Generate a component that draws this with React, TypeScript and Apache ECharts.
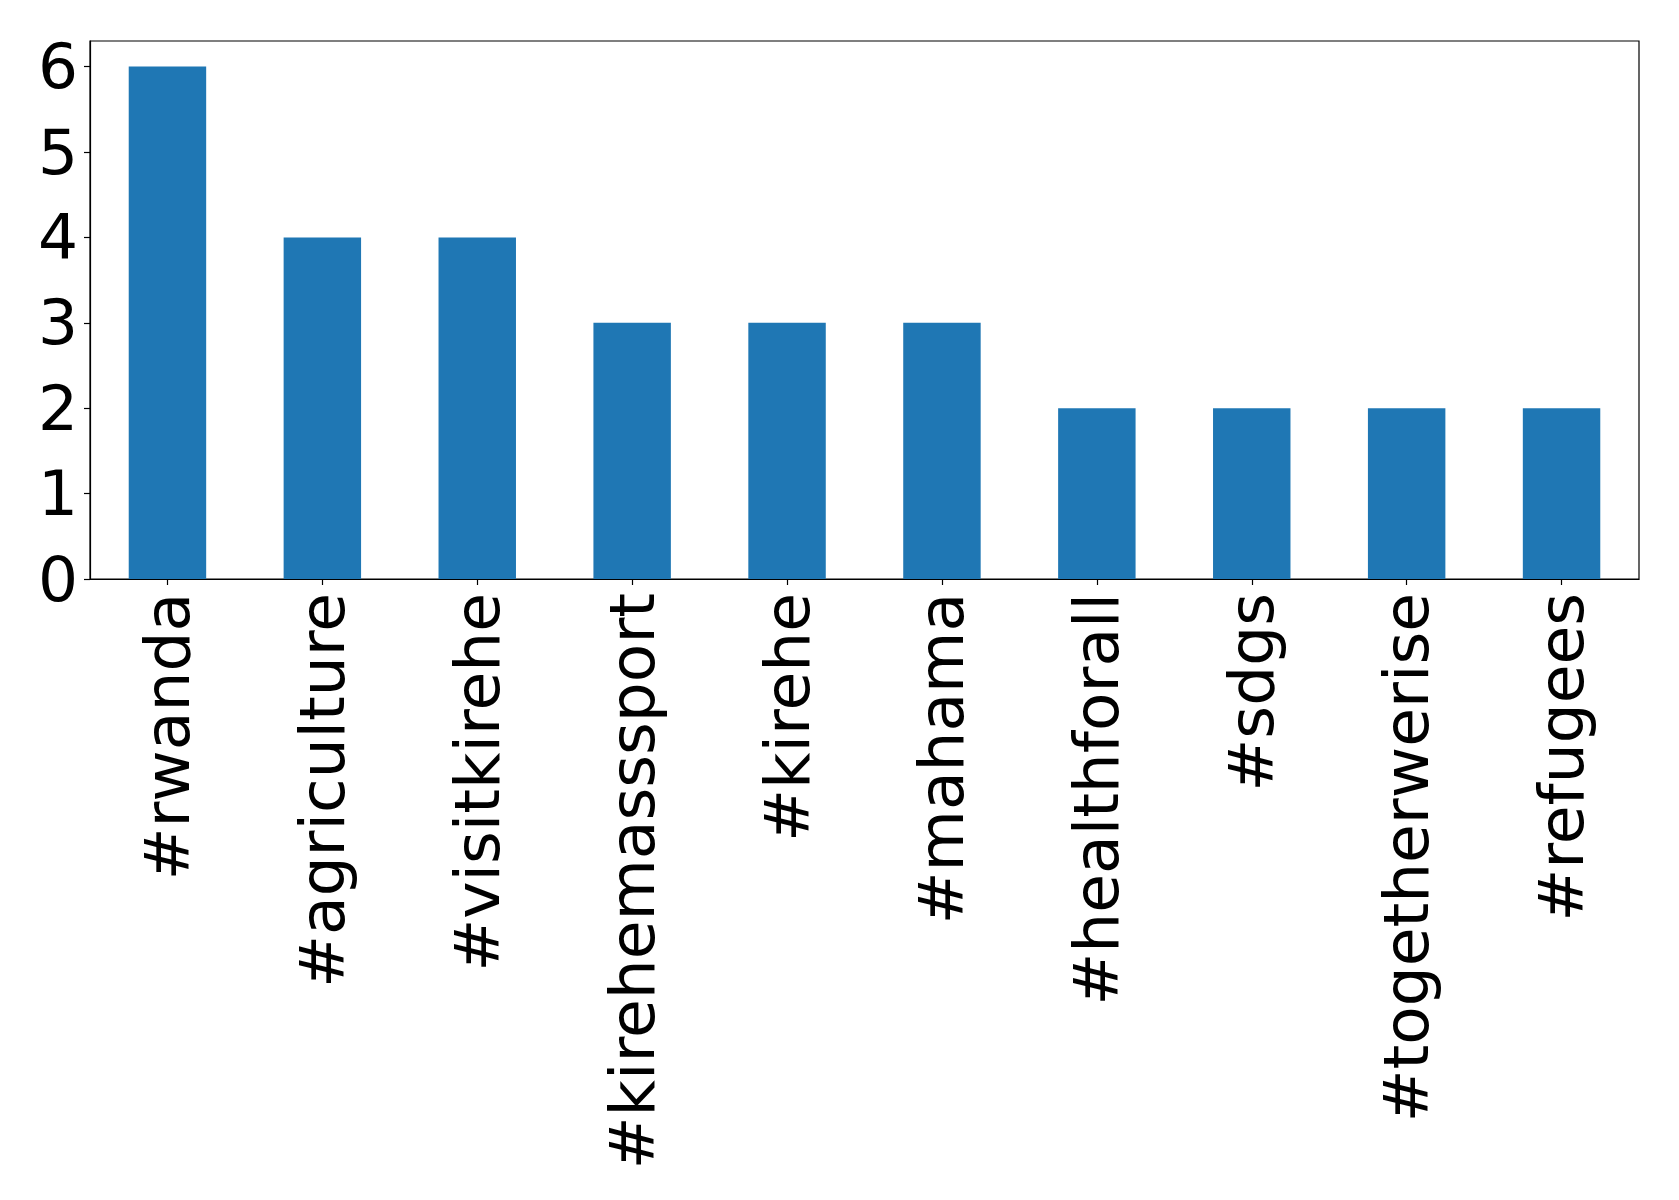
import React, { useEffect, useRef } from "react";
import * as echarts from "echarts";

const categories = [
  "#rwanda",
  "#agriculture",
  "#visitkirehe",
  "#kirehemasssport",
  "#kirehe",
  "#mahama",
  "#healthforall",
  "#sdgs",
  "#togetherwerise",
  "#refugees",
];
const counts = [6, 4, 4, 3, 3, 3, 2, 2, 2, 2];
const yTicks = [0, 1, 2, 3, 4, 5, 6];

export default function App() {
  const ref = useRef<HTMLDivElement>(null);
  useEffect(() => {
    if (!ref.current) return;
    const chart = echarts.init(ref.current, null, { renderer: "svg" });
    const font = "DejaVu Sans";
    chart.setOption({
      animation: false,
      backgroundColor: "#ffffff",
      grid: {
        left: 90,
        right: 40,
        top: 41,
        bottom: 621,
        show: true,
        borderColor: "#000000",
        borderWidth: 1.2,
        backgroundColor: "transparent",
      },
      xAxis: {
        type: "category",
        data: categories,
        axisLine: { show: true, lineStyle: { color: "#000", width: 1.2 } },
        axisTick: { show: true, alignWithLabel: true, length: 6, lineStyle: { color: "#000", width: 1.2 } },
        axisLabel: {
          rotate: 90,
          interval: 0,
          margin: 14,
          fontSize: 63,
          fontFamily: font,
          color: "#000",
        },
        splitLine: { show: false },
      },
      yAxis: {
        type: "value",
        min: 0,
        max: 6.3,
        axisLine: { show: true, lineStyle: { color: "#000", width: 1.2 } },
        axisTick: { show: true, length: 6, lineStyle: { color: "#000", width: 1.2 }, customValues: yTicks },
        axisLabel: {
          margin: 12,
          fontSize: 63,
          fontFamily: font,
          color: "#000",
          customValues: yTicks,
        },
        splitLine: { show: false },
      },
      series: [
        {
          type: "bar",
          data: counts,
          barWidth: "50%",
          itemStyle: { color: "#1f77b4" },
        },
      ],
    });
    return () => chart.dispose();
  }, []);
  return (
    <div
      ref={ref}
      style={{ position: "fixed", left: 0, top: 0, width: 1679, height: 1200, background: "#fff" }}
    />
  );
}
